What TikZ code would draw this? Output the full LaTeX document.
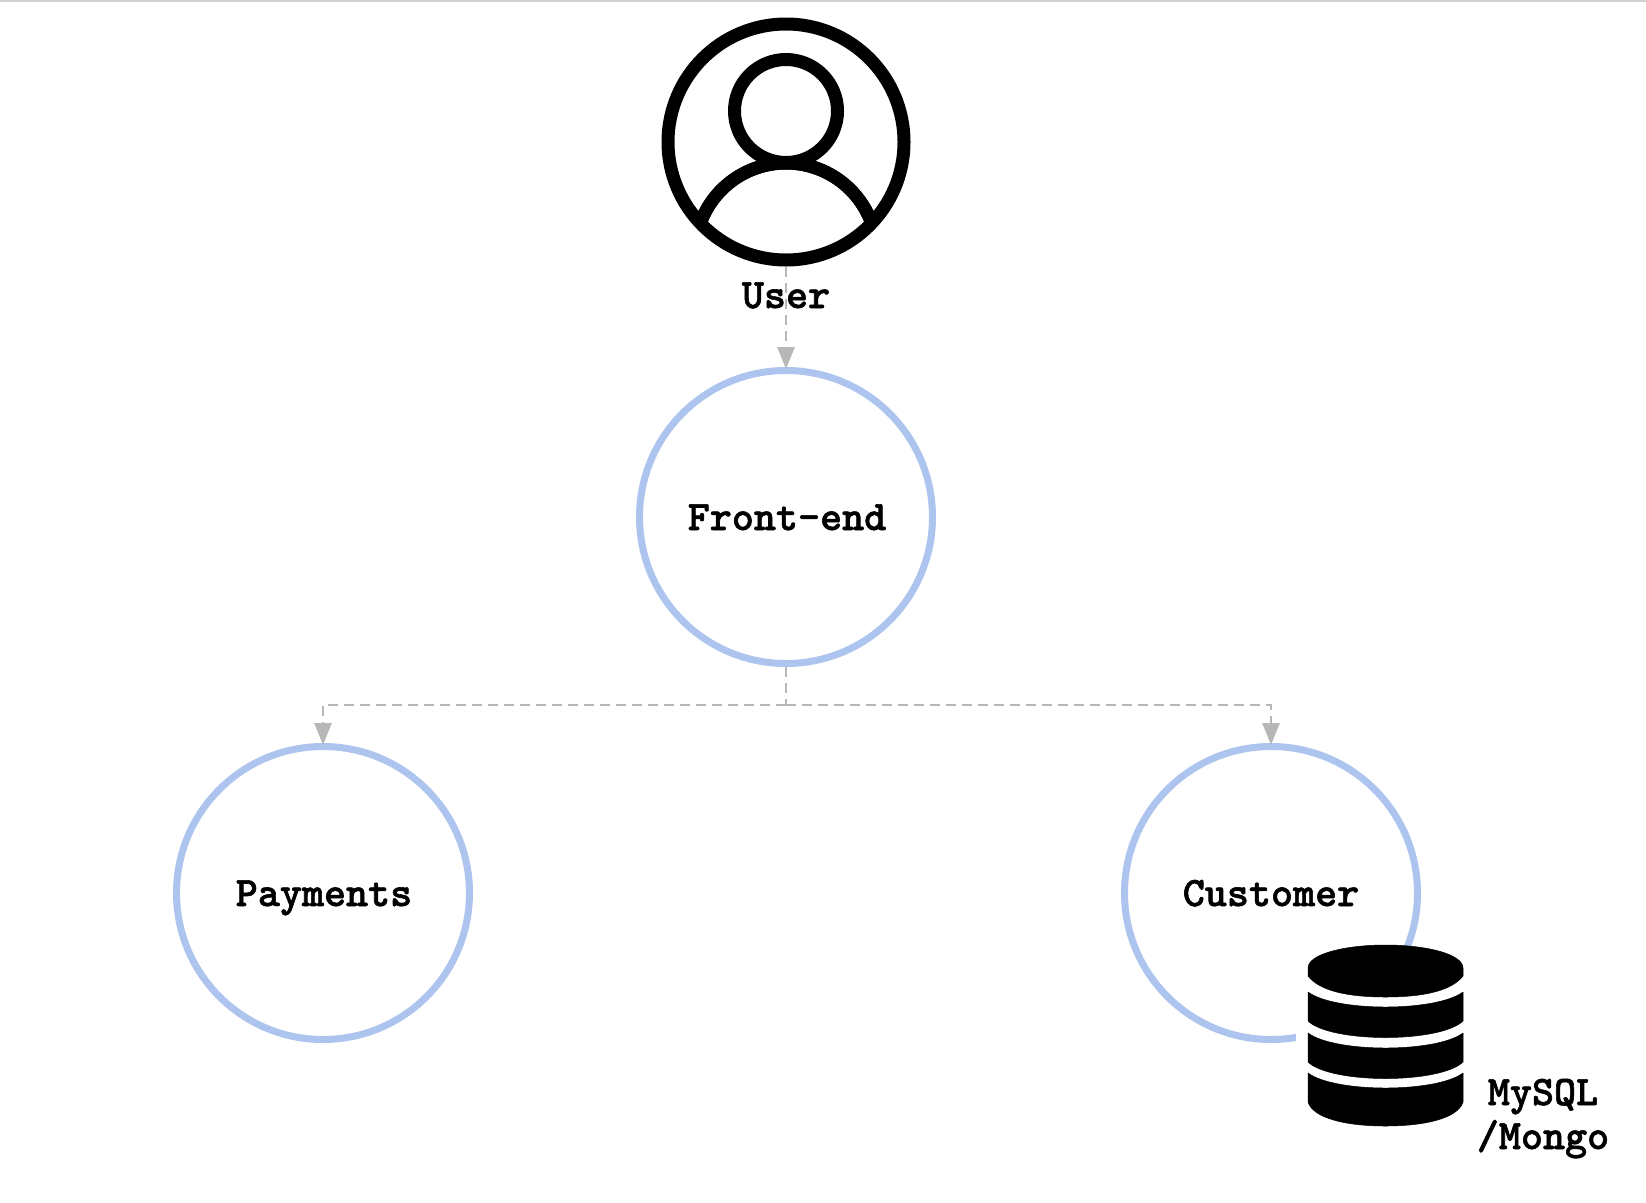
\documentclass[tikz,border=0pt]{standalone}
\usepackage{fontspec}
\newfontfamily\labelfont[FakeBold=1.4]{lmmonolt10-bold.otf}
\usetikzlibrary{arrows.meta}
\definecolor{ring}{HTML}{ADC5EE}
\definecolor{conn}{HTML}{B7B7B7}
\tikzset{
  x=1pt,y=-1pt,
  labeltext/.style={font=\labelfont\fontsize{42}{44}\selectfont,text=black,inner sep=0,align=center},
  service/.style={circle,draw=ring,line width=7pt,minimum size=293pt,inner sep=0},
  link/.style={draw=conn,line width=2.8pt,dash pattern=on 10pt off 6pt},
  arrowed/.style={link,shorten >=-2pt,-{Triangle[length=22pt,width=17pt,fill=conn,color=conn,sep=0pt]}},
  iconline/.style={draw=black,line width=13pt},
  band/.style={fill=black,draw=black,line width=0.5pt,line join=round}
}
\begin{document}
\begin{tikzpicture}
\useasboundingbox (0,0) rectangle (1646,1202);
\fill[white] (0,0) rectangle (1646,1202);
\draw[color=black!18,line width=1.5pt] (0,0.75) -- (1646,0.75);
% services
\node[service] (frontend) at (786,517) {};
\node[service] (payments) at (323,893) {};
\node[service] (customer) at (1271,893) {};
\node[labeltext,anchor=base] (frontendlabel) at (787,530) {Front-end};
\node[labeltext,anchor=base] (paymentslabel) at (324,906) {Payments};
\node[labeltext,anchor=base] (customerlabel) at (1271,906) {Customer};
% user icon
\node[circle,iconline,minimum size=236pt,inner sep=0] (user) at (786,142) {};
\begin{scope}
  \clip (786,142) circle[radius=118pt];
  \draw[iconline] (786,254) circle[radius=91pt];
\end{scope}
\draw[iconline,fill=white] (786,111) circle[radius=51.5pt];
\begin{scope}
  \clip (786,142) circle[radius=118pt];
  \draw[iconline] (695,254) arc[start angle=180,end angle=0,radius=91pt];
\end{scope}
\node[labeltext,anchor=base] (userlabel) at (786,308) {User};
% connectors
\coordinate (fork) at (786,705);
\draw[arrowed] (user.south) -- (frontend.north);
\draw[link] (frontend.south) -- (fork);
\draw[arrowed] (fork) -| (payments.north);
\draw[arrowed] (fork) -| (customer.north);
% database icon, with white halo cutting the ring
\fill[white] (1296,946) rectangle (1480,1060);
\path[band] (1308,968) .. controls (1308,954) and (1345,945) .. (1385.5,945)
  .. controls (1426,945) and (1463,954) .. (1463,968)
  -- (1463,976) .. controls (1452,990) and (1426,997) .. (1385.5,997)
  .. controls (1345,997) and (1319,990) .. (1308,976) -- cycle;
\path[band] (1308,992) .. controls (1335,1012) and (1436,1012) .. (1463,992)
  -- (1463,1021) .. controls (1440,1043) and (1331,1043) .. (1308,1021) -- cycle;
\path[band] (1308,1033) .. controls (1335,1053) and (1436,1053) .. (1463,1033)
  -- (1463,1062) .. controls (1440,1084) and (1331,1084) .. (1308,1062) -- cycle;
\path[band] (1308,1073) .. controls (1335,1093) and (1436,1093) .. (1463,1073)
  -- (1463,1102) .. controls (1458,1118) and (1426,1126) .. (1385.5,1126)
  .. controls (1345,1126) and (1313,1118) .. (1308,1102) -- cycle;
\node[labeltext,anchor=base] (dblabel) at (1543,1149) {MySQL\\/Mongo};
\end{tikzpicture}
\end{document}
